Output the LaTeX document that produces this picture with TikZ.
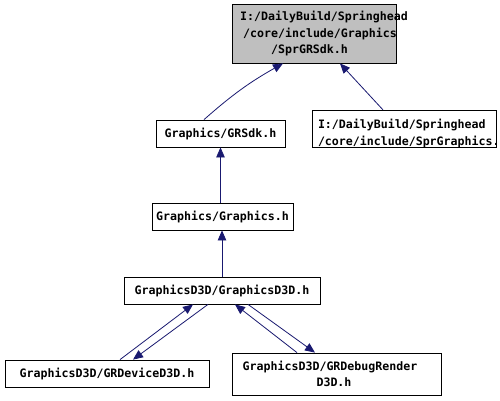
\documentclass[tikz,border=0pt]{standalone}
\usepackage{fontspec}
\setmonofont{DejaVu Sans Mono}
\usetikzlibrary{arrows.meta}
\definecolor{edgeblue}{HTML}{191970}
\definecolor{topgray}{HTML}{BFBFBF}
\begin{document}
\begin{tikzpicture}[x=1pt,y=-1pt,
  filebox/.style={draw=black, line width=0.8pt, inner sep=0pt, rectangle,
    font=\fontsize{11.6}{16.5}\selectfont\ttfamily\bfseries},
  dep/.style={draw=edgeblue, line width=0.8pt, -{Triangle[length=10pt,width=8.5pt]}}]
\useasboundingbox (0,0) rectangle (500,400);
\fill[white] (0,0) rectangle (500,400);

\node[filebox, fill=topgray, minimum width=164pt, minimum height=59pt, align=center] (top) at (314,33.5)
  {\makebox[0pt]{\kern20pt I:/DailyBuild/Springhead}\\\makebox[0pt]{\kern12pt /core/include/Graphics}\\\makebox[0pt]{/SprGRSdk.h\kern9pt}};
\node[filebox, minimum width=184pt, minimum height=34pt, text width=172pt, inner xsep=6pt, align=left] (spr) at (404,129)
  {\rule{0pt}{18.5pt}\makebox[0pt][l]{I:/DailyBuild/Springhead}\\\makebox[0pt][l]{/core/include/SprGraphics.}};
\node[filebox, minimum width=129pt, minimum height=27pt] (grsdk) at (220.5,133.5) {Graphics/GRSdk.h};
\node[filebox, minimum width=141pt, minimum height=27pt] (gfx) at (222.5,216.5) {Graphics/Graphics.h};
\node[filebox, minimum width=196pt, minimum height=27pt] (gd3d) at (222,290.5) {GraphicsD3D/GraphicsD3D.h};
\node[filebox, minimum width=204pt, minimum height=27pt] (dev) at (107,373.5) {GraphicsD3D/GRDeviceD3D.h};
\node[filebox, minimum width=209pt, minimum height=42pt, align=center] (dbg) at (336.5,374)
  {\makebox[0pt]{GraphicsD3D/GRDebugRender\kern13pt}\\\makebox[0pt]{D3D.h\kern5pt}};

\draw[dep] ([xshift=-16.5pt]grsdk.north) to[bend left=6] ([xshift=-31pt]top.south);
\draw[dep] ([xshift=-21pt]spr.north) -- ([xshift=26pt]top.south);
\draw[dep] (gfx.north -| grsdk.south) -- (grsdk.south);
\draw[dep] (gd3d.north) -- (gd3d.north |- gfx.south);
\draw[dep] ([xshift=13pt]dev.north) -- ([xshift=-29pt]gd3d.south);
\draw[dep] ([xshift=-14pt]gd3d.south) -- ([xshift=26pt]dev.north);
\draw[dep] ([xshift=-39.5pt]dbg.north) -- ([xshift=13pt]gd3d.south);
\draw[dep] ([xshift=26pt]gd3d.south) -- ([xshift=-21.5pt]dbg.north);
\end{tikzpicture}
\end{document}
